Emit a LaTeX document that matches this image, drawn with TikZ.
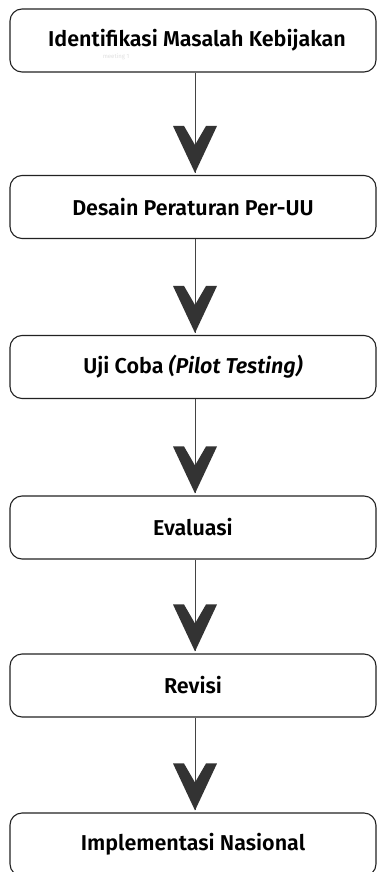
\documentclass[tikz,border=0pt]{standalone}
\usepackage{fontspec}
\setmainfont{Fira Sans}[BoldFont={Fira Sans SemiBold},BoldItalicFont={Fira Sans SemiBold Italic}]
\usetikzlibrary{calc}
\definecolor{chevfill}{HTML}{333333}
\definecolor{edge}{HTML}{222222}
\tikzset{
  stepbox/.style={draw=edge, line width=1.1pt, rounded corners=12pt, fill=white,
    minimum width=366pt, minimum height=63pt, inner sep=0pt,
    font=\fontsize{21.5}{26}\selectfont\bfseries, text=black},
  link/.style={draw=edge!85, line width=0.8pt},
  chev/.pic={\fill[chevfill] (-22,-47) -- (-11,-47) -- (0,-28) -- (11,-47) -- (22,-47) -- (0,0) -- cycle;}
}
\begin{document}
\begin{tikzpicture}[x=1pt,y=-1pt]
\useasboundingbox (0,0) rectangle (377,872);
\clip (0,0) rectangle (377,872);
\node[stepbox] (b1) at (193,40.5) {\hspace{8pt}Identifikasi Masalah Kebijakan};
\node[stepbox] (b2) at (193,207) {Desain Peraturan Per-UU};
\node[stepbox] (b3) at (193,367) {Uji Coba \textit{(Pilot Testing)}};
\node[stepbox] (b4) at (193,527.5) {Evaluasi};
\node[stepbox] (b5) at (193,685.5) {Revisi};
\node[stepbox] (b6) at (193,844.5) {Implementasi Nasional};
\node[text=black!12, font=\fontsize{6}{7}\selectfont] (wm) at (116,57) {meeting 1};
\foreach \a/\b in {b1/b2,b2/b3,b3/b4,b4/b5,b5/b6}{
  \draw[link] ($(\a.south)+(2,0)$) -- ($(\b.north)+(2,-2)$);
  \pic at ($(\b.north)+(2,-2)$) {chev};
}
\end{tikzpicture}
\end{document}
